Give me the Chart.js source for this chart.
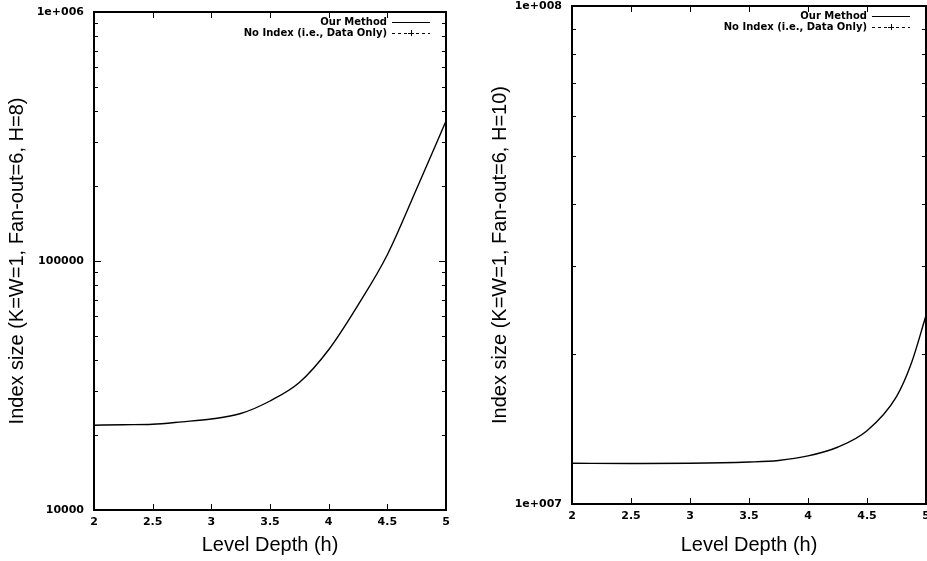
<!DOCTYPE html>
<html>
<head>
<meta charset="utf-8">
<script src="https://cdn.jsdelivr.net/npm/chart.js@4"></script>
<style>
  body { margin: 0; background: #fff; }
  #wrap { position: relative; width: 927px; height: 561px; overflow: hidden; }
  canvas { position: absolute; top: 0; }
  #chartLeft { left: 0; }
  #chartRight { left: 470px; }
</style>
</head>
<body>
<div id="wrap">
  <canvas id="chartLeft" width="470" height="561"></canvas>
  <canvas id="chartRight" width="457" height="561"></canvas>
</div>
<script>
// Data
const depthLeft = [2, 2.25, 2.5, 2.75, 3, 3.25, 3.5, 3.75, 4, 4.25, 4.5, 4.75, 5];
const ourMethodLeft = [21900, 22000, 22100, 22600, 23200, 24400, 27400, 32500, 44000, 66500, 106000, 195000, 365000];
const noIndexLeft = [];

const depthRight = [2, 2.5, 3, 3.5, 3.75, 4, 4.25, 4.5, 4.75, 4.875, 5];
const ourMethodRight = [12.07e6, 12.06e6, 12.07e6, 12.14e6, 12.23e6, 12.49e6, 13.0e6, 14.03e6, 16.43e6, 19.14e6, 23.9e6];
const noIndexRight = [];

const xTicks = [2, 2.5, 3, 3.5, 4, 4.5, 5];
const yLabelsLeft = { 10000: "10000", 100000: "100000", 1000000: "1e+006" };
const yLabelsRight = { 10000000: "1e+007", 100000000: "1e+008" };

const tickFont = { family: "DejaVu Sans", size: 11, weight: "bold" };
const titleFont = { family: "Liberation Sans, Arial", size: 20 };

// 1..9 marks in every decade between min and max
function logTicks(min, max) {
  const out = [];
  for (let d = min; d < max; d *= 10) {
    for (let k = 1; k < 10; k++) out.push(k * d);
  }
  out.push(max);
  return out;
}

function isDecade(v) {
  const l = Math.log10(v);
  return Math.abs(l - Math.round(l)) < 1e-6;
}

// frame with inward ticks on all four sides (gnuplot style)
const framePlugin = {
  id: "frame",
  afterDatasetsDraw(chart) {
    const { ctx, chartArea: a, scales: { x, y } } = chart;
    ctx.save();
    ctx.strokeStyle = "#000";
    ctx.lineWidth = 1;
    ctx.beginPath();
    y.ticks.forEach(t => {
      const py = Math.round(y.getPixelForValue(t.value)) + 0.5;
      const len = isDecade(t.value) ? 7 : 4;
      ctx.moveTo(a.left, py); ctx.lineTo(a.left + len, py);
      ctx.moveTo(a.right, py); ctx.lineTo(a.right - len, py);
    });
    xTicks.forEach(v => {
      const px = Math.round(x.getPixelForValue(v)) + 0.5;
      ctx.moveTo(px, a.bottom); ctx.lineTo(px, a.bottom - 6);
      ctx.moveTo(px, a.top); ctx.lineTo(px, a.top + 6);
    });
    ctx.stroke();
    ctx.lineWidth = 2;
    ctx.strokeRect(a.left, a.top, a.right - a.left, a.bottom - a.top);
    ctx.restore();
  }
};

// legend inside the top right corner
const keyPlugin = {
  id: "key",
  afterDraw(chart) {
    const { ctx, chartArea: a } = chart;
    ctx.save();
    ctx.font = "bold 10px 'DejaVu Sans'";
    ctx.fillStyle = "#000";
    ctx.textAlign = "right";
    ctx.textBaseline = "middle";
    chart.data.datasets.forEach((ds, i) => {
      const yy = a.top + 10 + i * 11;
      ctx.fillText(ds.label, a.right - 59, yy);
      const x0 = a.right - 54, x1 = a.right - 16;
      ctx.strokeStyle = "#000";
      ctx.lineWidth = 1;
      ctx.setLineDash(ds.borderDash || []);
      ctx.beginPath();
      ctx.moveTo(x0, yy + 0.5); ctx.lineTo(x1, yy + 0.5);
      ctx.stroke();
      ctx.setLineDash([]);
      if (ds.pointStyle === "cross") {
        const cx = Math.round((x0 + x1) / 2);
        ctx.beginPath();
        ctx.moveTo(cx - 3, yy + 0.5); ctx.lineTo(cx + 3, yy + 0.5);
        ctx.moveTo(cx + 0.5, yy - 3); ctx.lineTo(cx + 0.5, yy + 3);
        ctx.stroke();
      }
    });
    ctx.restore();
  }
};

function makeChart(id, cfg) {
  const pts = (xs, ys) => ys.map((v, i) => ({ x: xs[i], y: v }));
  return new Chart(document.getElementById(id), {
    type: "line",
    data: {
      datasets: [
        {
          label: "Our Method",
          data: pts(cfg.depth, cfg.ours),
          borderColor: "#000",
          borderWidth: 1.4,
          pointRadius: 0,
          cubicInterpolationMode: "monotone",
          fill: false
        },
        {
          label: "No Index (i.e., Data Only)",
          data: pts(cfg.depth, cfg.noIndex),
          borderColor: "#000",
          borderWidth: 1,
          borderDash: [3, 3],
          pointStyle: "cross",
          pointRadius: 3,
          fill: false
        }
      ]
    },
    options: {
      responsive: false,
      animation: false,
      layout: { autoPadding: false, padding: cfg.padding },
      plugins: { legend: { display: false }, tooltip: { enabled: false } },
      scales: {
        x: {
          type: "linear",
          min: 2,
          max: 5,
          grid: { display: false, drawTicks: false },
          border: { display: false },
          afterBuildTicks: s => { s.ticks = xTicks.map(v => ({ value: v })); },
          afterFit: s => { s.height = cfg.xHeight; s.paddingLeft = 0; s.paddingRight = 0; },
          ticks: { font: tickFont, color: "#000", padding: 6, maxRotation: 0, autoSkip: false, callback: v => String(v) },
          title: { display: true, text: "Level Depth (h)", font: titleFont, color: "#000", padding: { top: 0, bottom: 4 } }
        },
        y: {
          type: "logarithmic",
          min: cfg.yMin,
          max: cfg.yMax,
          grid: { display: false, drawTicks: false },
          border: { display: false },
          afterBuildTicks: s => { s.ticks = logTicks(cfg.yMin, cfg.yMax).map(v => ({ value: v })); },
          afterFit: s => { s.width = cfg.yWidth; s.paddingTop = 0; s.paddingBottom = 0; },
          ticks: {
            font: tickFont,
            color: "#000",
            padding: 10,
            autoSkip: false,
            callback: v => cfg.yLabels[Math.round(v)] || ""
          },
          title: { display: true, text: cfg.yTitle, font: titleFont, color: "#000", padding: { top: cfg.yTitlePad, bottom: 0 } }
        }
      }
    },
    plugins: [framePlugin, keyPlugin]
  });
}

makeChart("chartLeft", {
  depth: depthLeft, ours: ourMethodLeft, noIndex: noIndexLeft,
  yMin: 10000, yMax: 1000000, yLabels: yLabelsLeft,
  yTitle: "Index size (K=W=1, Fan-out=6, H=8)", yTitlePad: 5,
  padding: { top: 12, right: 24, bottom: 0, left: 0 },
  xHeight: 51, yWidth: 94
});

makeChart("chartRight", {
  depth: depthRight, ours: ourMethodRight, noIndex: noIndexRight,
  yMin: 10000000, yMax: 100000000, yLabels: yLabelsRight,
  yTitle: "Index size (K=W=1, Fan-out=6, H=10)", yTitlePad: 18,
  padding: { top: 6, right: 1, bottom: 0, left: 0 },
  xHeight: 57, yWidth: 102
});
</script>
</body>
</html>
